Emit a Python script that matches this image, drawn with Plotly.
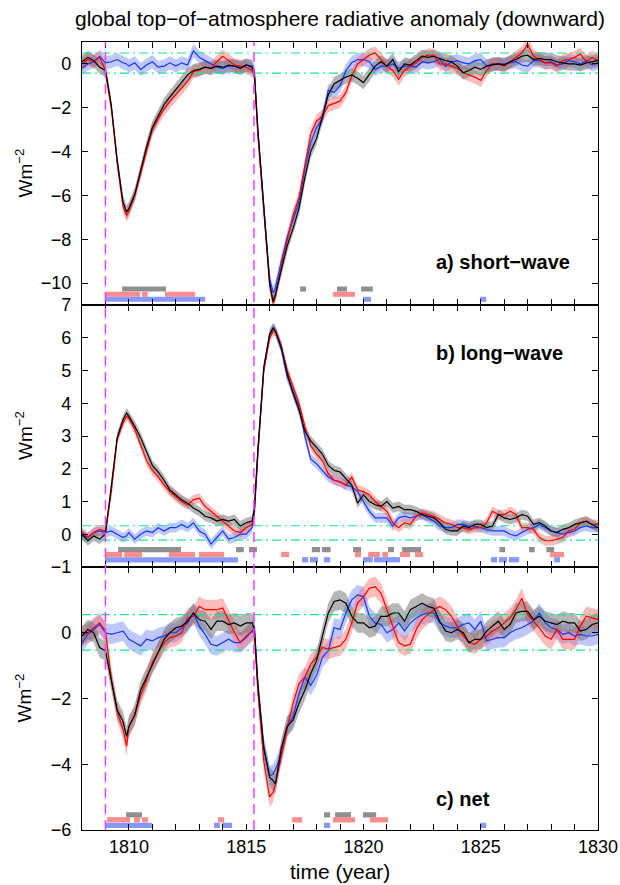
import plotly.graph_objects as go
from plotly.subplots import make_subplots

# ---------------- data ----------------
TIME = [
    1808.0, 1808.25, 1808.5, 1808.75,
    1809.0, 1809.25, 1809.5, 1809.75, 1809.9,
    1810.0, 1810.25, 1810.5, 1810.75,
    1811.0, 1811.25, 1811.5, 1811.75,
    1812.0, 1812.25, 1812.5, 1812.75,
    1813.0, 1813.25, 1813.5, 1813.75,
    1814.0, 1814.25, 1814.5, 1814.75,
    1815.0, 1815.25, 1815.35, 1815.5, 1815.75,
    1816.0, 1816.15, 1816.25, 1816.5, 1816.75,
    1817.0, 1817.25, 1817.5, 1817.75,
    1818.0, 1818.25, 1818.5, 1818.75,
    1819.0, 1819.25, 1819.5, 1819.75,
    1820.0, 1820.25, 1820.5, 1820.75,
    1821.0, 1821.25, 1821.5, 1821.75,
    1822.0, 1822.25, 1822.5, 1822.75,
    1823.0, 1823.25, 1823.5, 1823.75,
    1824.0, 1824.25, 1824.5, 1824.75,
    1825.0, 1825.25, 1825.5, 1825.75,
    1826.0, 1826.25, 1826.5, 1826.75,
    1827.0, 1827.25, 1827.5, 1827.75,
    1828.0, 1828.25, 1828.5, 1828.75,
    1829.0, 1829.25, 1829.5, 1829.75,
    1830.0]

# a) short-wave
SW_BLACK = [
    0.1, 0.3, 0.15, -0.15,
    -0.3, -1.9, -4.4, -6.3, -6.75,
    -6.6, -5.95, -4.9, -3.8,
    -2.9, -2.35, -1.85, -1.5,
    -1.15, -0.85, -0.5, -0.3,
    -0.25, -0.15, -0.2, -0.1,
    -0.15, -0.05, -0.1, -0.2,
    -0.05, -0.15, -0.4, -3.0, -6.6,
    -10.0, -10.85, -10.5, -9.4, -8.3,
    -7.5, -6.6, -5.2, -4.0,
    -3.4, -2.4, -1.4, -0.9,
    -0.75, -0.6, -0.5, -0.65,
    -0.85, -0.5, -0.1, 0.1,
    -0.1, 0.2, -0.35, 0.0,
    -0.05, 0.15, 0.35, 0.3,
    0.35, 0.25, 0.15, 0.1,
    -0.1, -0.4, -0.3, -0.15,
    -0.25, -0.1, -0.05, 0.0,
    -0.05, 0.1, 0.2, 0.35,
    0.4, 0.2, 0.25, 0.2,
    0.2, 0.1, 0.05, 0.0,
    0.0, -0.05, 0.05, 0.1,
    0.15]
SW_RED = [
    0.0, 0.2, 0.1, 0.3,
    -0.3, -2.0, -4.5, -6.5, -6.9,
    -6.7, -6.0, -5.0, -3.9,
    -3.0, -2.5, -2.05, -1.7,
    -1.4, -1.1, -0.8, -0.35,
    -0.3, -0.15, -0.2, 0.1,
    0.35, 0.15, -0.05, -0.1,
    -0.15, -0.3, -0.5, -3.3, -6.7,
    -10.1, -10.9, -10.6, -9.2, -8.1,
    -6.9, -6.1, -4.6, -3.2,
    -2.6, -2.4, -1.9, -1.8,
    -1.7, -1.3, -0.55, 0.0,
    0.2, 0.4, 0.5, 0.2,
    -0.1, -0.3, -0.7, -0.3,
    -0.1, 0.05, 0.3, 0.4,
    0.4, 0.0, 0.0, -0.1,
    -0.2, -0.4, -0.5, -0.6,
    -0.75, -0.3, 0.0, 0.0,
    -0.1, 0.1, 0.3, 0.5,
    0.9, 0.35, 0.2, 0.05,
    0.05, -0.1, 0.15, 0.2,
    0.3, 0.45, 0.1, 0.3,
    0.15]
SW_BLUE = [
    -0.2, 0.0, 0.1, 0.35,
    0.05, 0.1, 0.2, 0.05, 0.0,
    -0.1, 0.05, -0.25, -0.05,
    0.1, -0.15, -0.1, 0.05,
    -0.1, 0.05, -0.05, 0.6,
    0.3, 0.15, 0.0, -0.15,
    -0.2, -0.1, -0.1, -0.15,
    -0.05, -0.1, -0.4, -3.1, -6.5,
    -9.8, -10.45, -10.2, -9.0, -7.9,
    -7.1, -6.3, -4.8, -3.6,
    -2.9, -2.5, -1.2, -1.3,
    -1.0, -0.3, 0.05, 0.2,
    0.2, 0.1, -0.25, -0.1,
    -0.1, 0.0, -0.2, -0.1,
    -0.1, -0.15, 0.1, 0.05,
    0.1, 0.2, -0.1, 0.1,
    0.15, 0.05, 0.0, 0.15,
    0.2, -0.1, 0.0, 0.0,
    0.0, 0.05, 0.1, -0.05,
    -0.1, 0.15, 0.15, 0.05,
    0.1, -0.05, 0.0, 0.15,
    0.1, 0.0, 0.15, -0.05,
    0.05]

# b) long-wave
LW_BLACK = [
    0.0, -0.2, -0.05, -0.15,
    0.0, 1.4, 2.95, 3.5, 3.7,
    3.6, 3.3, 2.95, 2.5,
    2.1, 1.9, 1.65, 1.35,
    1.2, 1.05, 0.95, 0.8,
    0.7, 0.55, 0.5, 0.4,
    0.45, 0.4, 0.45, 0.25,
    0.35, 0.4, 0.8, 2.6, 5.1,
    6.1, 6.3, 6.2, 5.7, 4.9,
    4.3, 3.8, 3.15, 2.85,
    2.65, 2.45, 2.1, 1.95,
    1.9, 1.7, 1.5, 0.95,
    1.2, 1.0, 0.9, 0.85,
    1.0, 0.8, 0.85, 0.75,
    0.75, 0.7, 0.6, 0.55,
    0.5, 0.35, 0.15, 0.1,
    0.1, 0.25, 0.2, 0.3,
    0.3, 0.2, 0.25, 0.6,
    0.5, 0.45, 0.5, 0.6,
    0.55, 0.3, 0.35, 0.25,
    0.1, 0.05, 0.15, 0.2,
    0.3, 0.35, 0.4, 0.3,
    0.2]
LW_RED = [
    0.05, -0.1, 0.05, 0.15,
    0.1, 1.3, 2.9, 3.4, 3.6,
    3.55, 3.2, 2.75, 2.25,
    1.95, 1.75, 1.5, 1.3,
    1.15, 1.0, 0.9, 1.05,
    1.1, 0.85, 0.7, 0.55,
    0.4, 0.25, 0.1, 0.05,
    0.2, 0.3, 0.75, 2.5, 5.0,
    6.0, 6.2, 6.2, 5.75, 5.0,
    4.5, 4.0, 3.3, 2.7,
    2.45, 2.25, 1.85, 1.65,
    1.6, 1.5, 1.75, 1.35,
    1.3, 1.2, 1.0, 0.85,
    0.7, 0.35, 0.2, 0.35,
    0.3, 0.55, 0.65, 0.6,
    0.55, 0.45, 0.35, 0.3,
    0.2, 0.2, 0.15, 0.2,
    0.2, 0.35, 0.7, 0.6,
    0.6, 0.7, 0.6, 0.2,
    0.2, 0.15, -0.1, -0.2,
    -0.2, -0.15, -0.1, 0.1,
    0.15, 0.35, 0.4, 0.3,
    0.3]
LW_BLUE = [
    -0.05, -0.1, 0.05, 0.1,
    0.05, 0.1, 0.0, -0.1, -0.05,
    0.05, -0.15, 0.0, 0.1,
    0.05, 0.2, 0.1, 0.2,
    0.2, 0.3, 0.2, 0.35,
    0.1, 0.0, -0.3, -0.1,
    0.1, -0.15, -0.1, 0.0,
    0.0, 0.2, 0.6, 2.5, 5.0,
    6.1, 6.3, 6.2, 5.65, 4.8,
    4.35, 3.9, 3.0, 2.3,
    2.15, 1.95, 1.75, 1.65,
    1.6, 1.5, 1.45, 1.3,
    1.0, 0.7, 0.5, 0.5,
    0.5, 0.25, 0.5, 0.55,
    0.5, 0.55, 0.6, 0.5,
    0.4, 0.25, 0.2, 0.2,
    0.3, 0.3, 0.25, 0.25,
    0.2, 0.15, 0.1, 0.1,
    0.1, 0.0, -0.05, 0.05,
    0.15, 0.2, 0.3, 0.2,
    0.1, 0.05, 0.0, 0.05,
    0.1, 0.2, 0.25, 0.2,
    0.2]

# c) net
NET_BLACK = [
    -0.1, 0.1, 0.0, -0.45,
    -0.55, -1.45, -2.35, -2.7, -3.15,
    -2.85, -2.5, -1.75, -1.35,
    -0.95, -0.6, -0.2, 0.0,
    0.15, 0.2, 0.35, 0.6,
    0.4, 0.35, 0.1, 0.35,
    0.35, 0.25, 0.3, 0.2,
    0.3, 0.3, 0.1, -1.6, -3.5,
    -4.4, -4.5, -4.6, -3.5, -2.85,
    -2.65, -2.15, -1.75, -1.25,
    -0.85, -0.1, 0.6, 0.95,
    1.0, 0.9, 0.5, 0.3,
    0.3, 0.15, 0.2, 0.5,
    0.5, 0.6, 0.6, 0.35,
    0.7, 0.8, 0.9, 0.8,
    0.75, 0.35, 0.05, 0.0,
    0.1, 0.0, -0.3, -0.2,
    -0.2, 0.05, 0.2, 0.35,
    0.1, 0.25, 0.6, 0.65,
    0.65, 0.4, 0.5, 0.35,
    0.3, 0.25, 0.35, 0.3,
    0.3, 0.05, 0.1, 0.25,
    0.3]
NET_RED = [
    -0.1, 0.0, 0.15, 0.3,
    0.05, -1.4, -2.4, -2.95, -3.45,
    -2.85, -2.5, -1.9, -1.45,
    -0.9, -0.6, -0.3, -0.15,
    -0.1, 0.0, 0.45, 0.5,
    0.8, 0.7, 0.7, 0.7,
    0.75, 0.4, 0.0, -0.3,
    -0.1, 0.05, 0.0, -1.8, -3.9,
    -5.0, -4.85, -4.6, -3.7, -2.9,
    -2.15, -1.55, -1.35, -0.95,
    -0.75, -0.45, -0.5, -0.45,
    -0.4, -0.2, 0.3, 0.9,
    1.1, 1.35, 1.4, 1.2,
    0.7, 0.15, -0.3, -0.4,
    -0.35, 0.1, 0.4, 0.55,
    0.7, 0.8, 0.7, 0.5,
    0.2, -0.1, -0.3, -0.35,
    -0.2, -0.1, 0.05, 0.15,
    0.3, 0.45, 0.7, 1.05,
    0.55, 0.35, 0.15, -0.1,
    -0.2, 0.1, -0.2, -0.2,
    -0.2, 0.2, 0.5, 0.45,
    0.4]
NET_BLUE = [
    -0.3, -0.05, 0.1, 0.25,
    0.0, -0.05, 0.0, 0.05, -0.1,
    -0.2, -0.3, -0.4, -0.2,
    -0.25, -0.15, -0.1, 0.0,
    0.0, 0.15, 0.3, 0.6,
    0.2, -0.05, -0.35, -0.4,
    -0.3, -0.2, -0.3, -0.3,
    -0.15, 0.05, 0.2, -1.6, -3.5,
    -4.35, -4.3, -4.15, -3.7, -2.85,
    -2.55, -1.85, -1.35, -1.6,
    -1.3, -0.75, -0.55, 0.15,
    0.1, 0.6, 1.0, 1.15,
    1.1, 0.5, 0.3, 0.25,
    0.0, 0.1, 0.3, 0.05,
    0.3, 0.45, 0.55, 0.6,
    0.6, 0.3, 0.2, 0.15,
    0.15, 0.25, 0.3, 0.1,
    0.35, -0.25, -0.2, -0.15,
    -0.15, 0.0, 0.1, 0.15,
    0.25, 0.35, 0.6, 0.3,
    0.15, 0.1, -0.05, 0.0,
    -0.1, -0.05, -0.1, -0.1,
    -0.05]

# ensemble spread (half width of shading) per panel
SPREAD = {"sw": 0.3, "lw": 0.15, "net": 0.3}

# control-run variability bounds (upper, lower) per panel
CTRL_BOUNDS = {"sw": (0.5, -0.42), "lw": (0.26, -0.18), "net": (0.55, -0.53)}

ERUPTIONS = [1809.0, 1815.33]

# periods with significant anomalies (start, end)
SW_SIG_GREY = [(1809.71, 1811.58), (1817.3, 1817.55), (1818.87, 1819.3), (1819.9, 1820.4)]
SW_SIG_RED = [(1808.98, 1810.47), (1810.56, 1810.8), (1811.54, 1812.82), (1818.7, 1819.64)]
SW_SIG_BLUE = [(1808.98, 1813.25), (1819.98, 1820.32), (1824.97, 1825.23)]

LW_SIG_GREY = [(1809.54, 1812.22), (1814.57, 1814.9), (1815.12, 1815.46), (1817.8, 1818.15),
               (1818.23, 1818.6), (1819.56, 1819.9), (1821.05, 1821.3), (1821.65, 1822.46),
               (1825.8, 1826.04), (1827.06, 1827.3), (1827.8, 1828.13)]
LW_SIG_RED = [(1808.98, 1809.71), (1809.8, 1810.56), (1811.7, 1812.82), (1812.99, 1814.06),
              (1816.49, 1816.83), (1819.64, 1819.9), (1820.2, 1820.7), (1820.8, 1821.05),
              (1821.56, 1821.99), (1822.2, 1822.54), (1827.96, 1828.55)]
LW_SIG_BLUE = [(1808.98, 1814.65), (1817.38, 1817.64), (1817.72, 1818.06), (1818.32, 1818.58),
               (1819.98, 1820.4), (1820.45, 1821.56), (1825.44, 1825.7), (1825.78, 1826.12),
               (1826.2, 1826.64), (1828.13, 1828.38)]

NET_SIG_GREY = [(1809.88, 1810.56), (1818.32, 1818.58), (1818.79, 1819.47), (1819.98, 1820.54)]
NET_SIG_RED = [(1809.07, 1810.05), (1810.22, 1810.47), (1810.56, 1810.81), (1813.8, 1814.06),
               (1816.96, 1817.38), (1818.7, 1819.64), (1820.28, 1821.05)]
NET_SIG_BLUE = [(1809.02, 1810.98), (1813.63, 1813.88), (1813.97, 1814.4), (1818.32, 1818.58),
                (1824.97, 1825.23)]

PANEL_LABELS = ["a) short\u2212wave", "b) long\u2212wave", "c) net"]

# ---------------- styling ----------------
FONT = "Liberation Sans, Arial, Helvetica, sans-serif"
LINE_COL = {"blue": "#1438ff", "red": "#ff0000", "black": "#000000"}
BAND_COL = {"blue": "rgba(100,125,255,0.42)", "red": "rgba(250,95,95,0.42)",
            "black": "rgba(110,110,110,0.50)"}
SIG_COL = {"grey": "#8f8f8f", "red": "#fb8d8d", "blue": "#8797fa"}

panels = [
    dict(key="sw", series={"blue": SW_BLUE, "red": SW_RED, "black": SW_BLACK},
         sig={"grey": SW_SIG_GREY, "red": SW_SIG_RED, "blue": SW_SIG_BLUE},
         rows={"grey": -10.27, "red": -10.51, "blue": -10.74}, half=0.115,
         yrange=[-11, 1], tickvals=[-10, -8, -6, -4, -2, 0], label_y=-9.03),
    dict(key="lw", series={"blue": LW_BLUE, "red": LW_RED, "black": LW_BLACK},
         sig={"grey": LW_SIG_GREY, "red": LW_SIG_RED, "blue": LW_SIG_BLUE},
         rows={"grey": -0.47, "red": -0.62, "blue": -0.78}, half=0.08,
         yrange=[-1, 7], tickvals=[-1, 0, 1, 2, 3, 4, 5, 6, 7], label_y=5.54),
    dict(key="net", series={"blue": NET_BLUE, "red": NET_RED, "black": NET_BLACK},
         sig={"grey": NET_SIG_GREY, "red": NET_SIG_RED, "blue": NET_SIG_BLUE},
         rows={"grey": -5.54, "red": -5.69, "blue": -5.86}, half=0.08,
         yrange=[-6, 2], tickvals=[-6, -4, -2, 0], label_y=-5.06),
]

fig = make_subplots(rows=3, cols=1, shared_xaxes=True, vertical_spacing=0)

shapes = []
annotations = []
for i, p in enumerate(panels):
    r = i + 1
    xref = "x" if r == 1 else f"x{r}"
    yref = "y" if r == 1 else f"y{r}"
    sp = SPREAD[p["key"]]
    for name in ["blue", "red", "black"]:
        v = p["series"][name]
        up = [a + sp for a in v]
        lo = [a - sp for a in v]
        fig.add_trace(go.Scatter(x=TIME + TIME[::-1], y=up + lo[::-1], fill="toself",
                                 fillcolor=BAND_COL[name], line=dict(width=0),
                                 mode="lines", hoverinfo="skip", showlegend=False),
                      row=r, col=1)
    for b in CTRL_BOUNDS[p["key"]]:
        fig.add_trace(go.Scatter(x=[TIME[0], TIME[-1]], y=[b, b], mode="lines",
                                 line=dict(color="#19e68c", width=1.1, dash="9px,4px,2px,4px"),
                                 hoverinfo="skip", showlegend=False), row=r, col=1)
    for name in ["blue", "red", "black"]:
        fig.add_trace(go.Scatter(x=TIME, y=p["series"][name], mode="lines",
                                 line=dict(color=LINE_COL[name], width=1.2),
                                 showlegend=False), row=r, col=1)
    for cname, intervals in p["sig"].items():
        yc = p["rows"][cname]
        for (s, e) in intervals:
            shapes.append(dict(type="rect", xref=xref, yref=yref, x0=s, x1=e,
                               y0=yc - p["half"], y1=yc + p["half"],
                               fillcolor=SIG_COL[cname], line=dict(width=0), layer="below"))
    annotations.append(dict(text=f"<b>{PANEL_LABELS[i]}</b>", xref="paper", yref=yref,
                            x=0.682, y=p["label_y"], xanchor="left", yanchor="middle",
                            showarrow=False, font=dict(size=20, family=FONT, color="black")))

for ey in ERUPTIONS:
    shapes.append(dict(type="line", xref="x3", yref="paper", x0=ey, x1=ey, y0=0, y1=1,
                       line=dict(color="#ff3cff", width=1.5, dash="10px,6px"), layer="above"))

axis_common = dict(showline=True, linecolor="black", linewidth=1.2, mirror="allticks",
                   ticks="inside", ticklen=6, tickwidth=1.2, tickcolor="black",
                   showgrid=False, zeroline=False, automargin=False,
                   tickfont=dict(size=18, family=FONT, color="black"))

domains = [[0.6662, 1.0], [0.3338, 0.6662], [0.0, 0.3338]]
for i, p in enumerate(panels):
    r = i + 1
    fig.update_xaxes(range=[1808, 1830], tick0=1810, dtick=5,
                     minor=dict(dtick=1, ticks="inside", ticklen=6, tickwidth=1.2,
                                tickcolor="black", showgrid=False),
                     showticklabels=(r == 3), **axis_common, row=r, col=1)
    fig.update_yaxes(range=p["yrange"], tickvals=p["tickvals"], domain=domains[i],
                     ticklabelstandoff=6, **axis_common, row=r, col=1)
    yref = "y" if r == 1 else f"y{r}"
    annotations.append(dict(text="Wm<sup>\u22122</sup>", xref="paper", yref=f"{yref} domain",
                            x=0, y=0.5, xshift=-58, xanchor="center", yanchor="middle",
                            textangle=-90, showarrow=False,
                            font=dict(size=19, family=FONT, color="black")))

annotations.append(dict(text="global top\u2212of\u2212atmosphere radiative anomaly (downward)",
                        xref="paper", yref="paper", x=0.5, y=1, yshift=24,
                        xanchor="center", yanchor="middle", showarrow=False,
                        font=dict(size=21, family=FONT, color="black")))
annotations.append(dict(text="time (year)", xref="paper", yref="paper", x=0.5, y=0,
                        yshift=-41, xanchor="center", yanchor="middle", showarrow=False,
                        font=dict(size=21, family=FONT, color="black")))

fig.update_layout(width=620, height=885, margin=dict(l=82, r=22, t=42, b=55, autoexpand=False),
                  plot_bgcolor="white", paper_bgcolor="white", showlegend=False,
                  shapes=shapes, annotations=annotations,
                  font=dict(family=FONT, color="black"))

# remove the default page margin so the figure fills the 620x885 window exactly
fig.write_html("out.html", config={"displayModeBar": False},
               post_script="document.body.style.margin='0';document.body.style.overflow='hidden';")
